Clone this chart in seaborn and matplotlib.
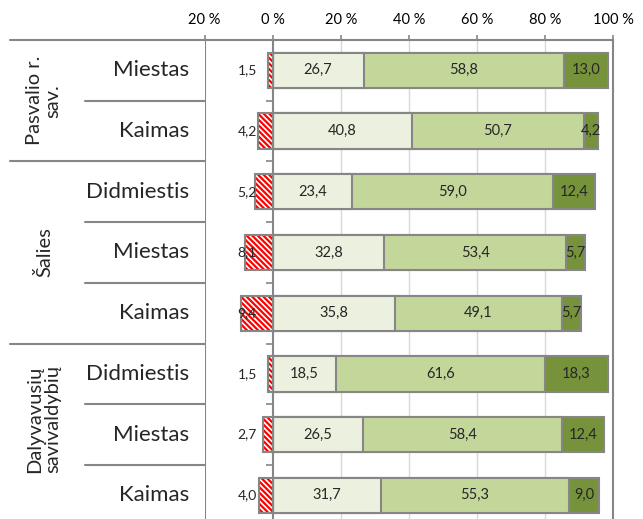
import numpy as np
import pandas as pd
import matplotlib
matplotlib.use("Agg")
import matplotlib.pyplot as plt
import matplotlib.transforms as mtransforms
import seaborn as sns

# Duomenys (procentai)
row_ids = ["r0", "r1", "r2", "r3", "r4", "r5", "r6", "r7"]
categories = ["Miestas", "Kaimas", "Didmiestis", "Miestas", "Kaimas",
              "Didmiestis", "Miestas", "Kaimas"]
groups = ["Pasvalio r.\nsav.", "Šalies", "Dalyvavusių\nsavivaldybių"]
neg = [1.5, 4.2, 5.2, 8.1, 9.4, 1.5, 2.7, 4.0]
light = [26.7, 40.8, 23.4, 32.8, 35.8, 18.5, 26.5, 31.7]
mid = [58.8, 50.7, 59.0, 53.4, 49.1, 61.6, 58.4, 55.3]
dark = [13.0, 4.2, 12.4, 5.7, 5.7, 18.3, 12.4, 9.0]
xticks = [-20, 0, 20, 40, 60, 80, 100]

sns.set_style("white")
plt.rcParams['font.family'] = ['Lato', 'DejaVu Sans']
plt.rcParams['hatch.linewidth'] = 1.6

GRAY = "#868686"
C_LIGHT = "#EBF1DE"
C_MID = "#C4D79B"
C_DARK = "#76933C"

df = pd.DataFrame({"row": row_ids, "neg": -np.array(neg), "light": light,
                   "mid": mid, "dark": dark})
df["c1"] = df["light"]
df["c2"] = df["light"] + df["mid"]
df["c3"] = df["c2"] + df["dark"]

fig = plt.figure(figsize=(6.43, 5.19), dpi=100)
ax = fig.add_axes([204.6 / 643, 0, 408.4 / 643, 479 / 519])

bw = 0.58
# sudėtiniai stulpeliai: nuo didžiausios sumos iki mažiausios
for col, c in [("c3", C_DARK), ("c2", C_MID), ("c1", C_LIGHT)]:
    sns.barplot(data=df, x=col, y="row", order=row_ids, color=c, width=bw,
                edgecolor=GRAY, linewidth=1.5, saturation=1, ax=ax)

# neigiami stulpeliai su raudonu brūkšniavimu
sns.barplot(data=df, x="neg", y="row", order=row_ids, color="white", width=bw,
            edgecolor="#FF0000", linewidth=0, hatch="\\\\\\\\\\\\", saturation=1, ax=ax)
sns.barplot(data=df, x="neg", y="row", order=row_ids, color=GRAY, width=bw,
            fill=False, linewidth=1.5, ax=ax)

# reikšmių etiketės
fmt = lambda v: f"{v:.1f}".replace(".", ",")
for i in range(len(row_ids)):
    ax.text(-7.5, i, fmt(neg[i]), ha="center", va="center", fontsize=10, zorder=10)
    ax.text(df["c1"][i] / 2, i, fmt(light[i]), ha="center", va="center", fontsize=10.5, zorder=10)
    ax.text(df["c1"][i] + mid[i] / 2, i, fmt(mid[i]), ha="center", va="center", fontsize=10.5, zorder=10)
    ax.text(df["c2"][i] + dark[i] / 2, i, fmt(dark[i]), ha="center", va="center", fontsize=10.5, zorder=10)

ax.set_xlim(-20, 100)
ax.set_ylim(7.39, -0.5)
ax.set_xlabel("")
ax.set_ylabel("")

# x ašis viršuje
ax.xaxis.tick_top()
ax.set_xticks(xticks)
ax.set_xticklabels([f"{abs(v)} %" for v in xticks])
ax.tick_params(axis="x", colors=GRAY, labelcolor="black", labelsize=10.5,
               length=3.6, width=1.2, pad=6, top=True, bottom=False)
for v in xticks[2:-1]:
    ax.axvline(v, color="#D9D9D9", lw=1, zorder=0)
ax.axvline(-20, color=GRAY, lw=1.5, zorder=0)

# y ašis ties 0
ax.spines["left"].set_position(("data", 0))
ax.set_yticks(np.arange(-0.5, 7.5, 1.0))
ax.set_yticklabels([])
ax.tick_params(axis="y", direction="out", length=5, width=1.2, colors=GRAY, left=True)
for s in ["left", "top", "right"]:
    ax.spines[s].set_visible(True)
    ax.spines[s].set_color(GRAY)
    ax.spines[s].set_linewidth(1.5)
ax.spines["bottom"].set_visible(False)

# lentelė kairėje
tr = mtransforms.blended_transform_factory(fig.transFigure, ax.transData)
for b in [-0.5, 1.5, 4.5]:
    ax.plot([10 / 643, 204.6 / 643], [b, b], color=GRAY, lw=1.5, transform=tr, clip_on=False)
for b in [0.5, 2.5, 3.5, 5.5, 6.5]:
    ax.plot([85 / 643, 204.6 / 643], [b, b], color=GRAY, lw=1.5, transform=tr, clip_on=False)
for i, cat in enumerate(categories):
    ax.text(189 / 643, i, cat, ha="right", va="center", fontsize=16, transform=tr)
for g, yc in zip(groups, [0.5, 3.0, 5.75]):
    ax.text(44 / 643, yc, g, ha="center", va="center", rotation=90, fontsize=14.5,
            linespacing=1.1, transform=tr)

fig.savefig("out.png", dpi=100)
